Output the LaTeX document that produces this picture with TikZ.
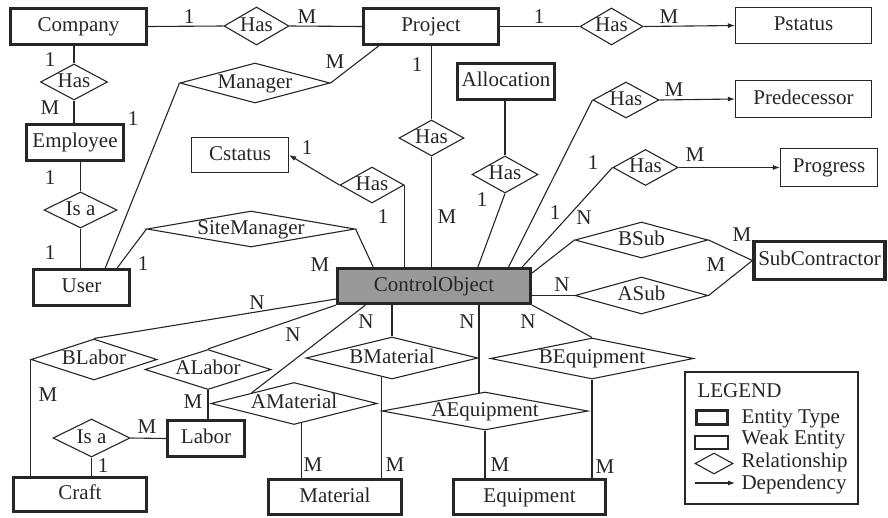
\documentclass[tikz,border=0pt]{standalone}
\usepackage{fontspec}
\newfontfamily\erfont{Liberation Serif}
\usetikzlibrary{calc, positioning}
\usetikzlibrary{arrows.meta}
\usetikzlibrary{shapes.geometric}

\tikzset{
  ent/.style={draw, line width=3.2pt, inner sep=0pt, text height=14pt, text depth=4pt},
  weak/.style={draw, line width=1.1pt, inner sep=0pt, text height=14pt, text depth=4pt},
  rel/.style n args={3}{diamond, draw, line width=1.1pt, inner sep=0pt,
    minimum width=#1, minimum height=#2,
    label={[inner sep=0pt, text height=14pt, text depth=4pt]center:#3}},
  card/.style={inner sep=0pt},
  lgtext/.style={anchor=west, inner sep=0pt, text height=14pt, text depth=4pt},
  dep/.style={-{Latex[length=7pt,width=5pt]}},
}

\begin{document}
\begin{tikzpicture}[x=1pt, y=-1pt, line width=1.1pt, color=black!85,
  font=\erfont\fontsize{21}{24}\selectfont]
\useasboundingbox (0,0) rectangle (888,517);

% entity types
\node[ent, minimum width=136pt, minimum height=36pt] (company) at (78.5,26.5) {Company};
\node[ent, minimum width=135pt, minimum height=36pt] (project) at (431,26.5) {Project};
\node[ent, minimum width=97pt, minimum height=36pt] (employee) at (75,142.5) {Employee};
\node[ent, minimum width=97pt, minimum height=36pt] (allocation) at (506,81.5) {Allocation};
\node[ent, minimum width=96pt, minimum height=36pt] (user) at (81.5,287.5) {User};
\node[ent, fill=black!40, minimum width=193pt, minimum height=35pt] (co) at (434,286) {ControlObject};
\node[ent, minimum width=131pt, minimum height=38pt] (sub) at (819.5,260.5) {SubContractor};
\node[ent, minimum width=77pt, minimum height=36pt] (labor) at (206,438.5) {Labor};
\node[ent, minimum width=133pt, minimum height=34pt] (craft) at (80,494.5) {Craft};
\node[ent, minimum width=133pt, minimum height=35pt] (material) at (335,497) {Material};
\node[ent, minimum width=152pt, minimum height=35pt] (equipment) at (529.5,497) {Equipment};

% weak entities
\node[weak, minimum width=136pt, minimum height=36pt] (pstatus) at (803.5,25.5) {Pstatus};
\node[weak, minimum width=136pt, minimum height=37pt] (predecessor) at (803.5,99) {Predecessor};
\node[weak, minimum width=97pt, minimum height=38pt] (progress) at (829,167.5) {Progress};
\node[weak, minimum width=97pt, minimum height=35pt] (cstatus) at (240,155) {Cstatus};

% relationships
\node[rel={65pt}{38pt}{Has}] (hasCP) at (256.5,26) {};
\node[rel={67pt}{36pt}{Has}] (hasCE) at (74,82) {};
\node[rel={150pt}{40pt}{Manager}] (manager) at (255,83) {};
\node[rel={63pt}{37pt}{Has}] (hasPS) at (611.5,26.5) {};
\node[rel={65pt}{36pt}{Has}] (hasPC) at (431.5,138) {};
\node[rel={66pt}{37pt}{Has}] (hasAl) at (505,174.5) {};
\node[rel={64pt}{36pt}{Has}] (hasCs) at (372,185) {};
\node[rel={66pt}{36pt}{Has}] (hasPred) at (626,100) {};
\node[rel={65pt}{36pt}{Has}] (hasProg) at (645.5,167.5) {};
\node[rel={73pt}{36pt}{Is a}] (isaEU) at (80.5,210) {};
\node[rel={208pt}{36pt}{SiteManager}] (siteMgr) at (251,229) {};
\node[rel={133pt}{36pt}{BSub}] (bSub) at (641.5,240) {};
\node[rel={133pt}{37pt}{ASub}] (aSub) at (641.5,295.5) {};
\node[rel={126pt}{41pt}{BLabor}] (bLabor) at (94,359.5) {};
\node[rel={126pt}{40pt}{ALabor}] (aLabor) at (208,369.5) {};
\node[rel={166pt}{42pt}{AMaterial}] (aMat) at (294,403.5) {};
\node[rel={172pt}{42pt}{BMaterial}] (bMat) at (392,358) {};
\node[rel={206pt}{38pt}{AEquipment}] (aEq) at (485,411) {};
\node[rel={203pt}{41pt}{BEquipment}] (bEq) at (592,358.5) {};
\node[rel={77pt}{38pt}{Is a}] (isaLC) at (91.5,438) {};

% connectors
\draw (company.east) -- (hasCP.west);
\draw (hasCP.east) -- (project.west);
\draw (hasCE.north) -- (hasCE.north |- company.south);
\draw (hasCE.south) -- (hasCE.south |- employee.north);
\draw (isaEU.north) -- (isaEU.north |- employee.south);
\draw (isaEU.south) -- (isaEU.south |- user.north);
\draw (manager.west) -- ($(user.north west)!0.74!(user.north east)$);
\draw (manager.east) -- ($(project.south west)!0.12!(project.south east)$);
\draw (project.east) -- (hasPS.west);
\draw[dep] (hasPS.east) -- (pstatus.west);
\draw (hasPC.north) -- (hasPC.north |- project.south);
\draw (hasPC.south) -- (hasPC.south |- co.north);
\draw (hasAl.north) -- (hasAl.north |- allocation.south);
\draw (hasAl.south) -- ($(co.north west)!0.724!(co.north east)$);
\draw[dep] (hasCs.west) -- (cstatus.east);
\draw (hasCs.east) -- (hasCs.east |- co.north);
\draw (siteMgr.west) -- ($(user.north west)!0.86!(user.north east)$);
\draw (siteMgr.east) -- ($(co.north west)!0.19!(co.north east)$);
\draw (hasPred.west) -- ($(co.north west)!0.88!(co.north east)$);
\draw[dep] (hasPred.east) -- (predecessor.west);
\draw (hasProg.west) -- ($(co.north west)!0.95!(co.north east)$);
\draw[dep] (hasProg.east) -- (progress.west);
\draw ($(co.north east)!0.16!(co.south east)$) -- (bSub.west);
\draw (bSub.east) -- (sub.west);
\draw (aSub.west) -- (aSub.west -| co.east);
\draw (aSub.east) -- (sub.west);
\draw (bLabor.north) -- ($(co.north west)!0.84!(co.south west)$);
\draw (aLabor.north) -- (co.south west);
\draw (aMat.166) -- ($(co.south west)!0.15!(co.south east)$);
\draw (bMat.north) -- (bMat.north |- co.south);
\draw (aEq.108) -- (aEq.108 |- co.south);
\draw (bEq.north) -- (co.south east);
\draw (bLabor.west) -- (bLabor.west |- craft.north);
\draw (aLabor.south) -- (aLabor.south |- labor.north);
\draw (aMat.-70) -- (aMat.-70 |- material.north);
\draw (bMat.-118) -- (bMat.-118 |- material.north);
\draw (aEq.south) -- (aEq.south |- equipment.north);
\draw (bEq.south) -- (bEq.south |- equipment.north);
\draw (isaLC.east) -- (labor.west);
\draw (isaLC.south) -- (isaLC.south |- craft.north);

% cardinalities
\node[card] (cCP1) at (189,17) {1};
\node[card] (cCPm) at (307,17) {M};
\node[card] (cPS1) at (539,17) {1};
\node[card] (cPSm) at (669,17) {M};
\node[card] (cCE1) at (50,60) {1};
\node[card] (cCEm) at (50,108) {M};
\node[card] (cMg1) at (133,119) {1};
\node[card] (cMgm) at (335,62) {M};
\node[card] (cPC1) at (417,65) {1};
\node[card] (cPCm) at (447,217) {M};
\node[card] (cCs1) at (307,148) {1};
\node[card] (cCs2) at (383,217) {1};
\node[card] (cAl1) at (482,200) {1};
\node[card] (cPrm) at (674,90) {M};
\node[card] (cPr1) at (593,163) {1};
\node[card] (cPgm) at (695,155) {M};
\node[card] (cPg1) at (555,213) {1};
\node[card] (cBSn) at (584,218) {N};
\node[card] (cEU1) at (50,178) {1};
\node[card] (cEU2) at (50,253) {1};
\node[card] (cSM1) at (143,264) {1};
\node[card] (cSMm) at (320,265) {M};
\node[card] (cBSm) at (742,235) {M};
\node[card] (cASm) at (716,265) {M};
\node[card] (cASn) at (562,285) {N};
\node[card] (cBLn) at (257,303) {N};
\node[card] (cALn) at (293,335) {N};
\node[card] (cMtn) at (366,322) {N};
\node[card] (cAEn) at (467,322) {N};
\node[card] (cBEn) at (528,322) {N};
\node[card] (cBLm) at (48,395) {M};
\node[card] (cALm) at (193,402) {M};
\node[card] (cLCm) at (147,427) {M};
\node[card] (cLC1) at (103,466) {1};
\node[card] (cAMm) at (313,465) {M};
\node[card] (cBMm) at (395,465) {M};
\node[card] (cAEm) at (500,465) {M};
\node[card] (cBEm) at (605,467) {M};

% legend
\node[draw, inner sep=0pt, minimum width=173pt, minimum height=132pt] (legend) at (771.5,438) {};
\node[lgtext] (lgTitle) at (697,392) {LEGEND};
\node[ent, line width=3pt, text height=0pt, text depth=0pt, minimum width=31pt, minimum height=14pt] (lgEnt) at (711.5,417) {};
\node[lgtext] (lgEntTxt) at (741,418) {Entity Type};
\node[weak, text height=0pt, text depth=0pt, minimum width=33pt, minimum height=13pt] (lgWeak) at (711.5,442.5) {};
\node[lgtext] (lgWeakTxt) at (741,439) {Weak Entity};
\node[rel={38pt}{21pt}{}] (lgRel) at (714,463.5) {};
\node[lgtext] (lgRelTxt) at (741,462) {Relationship};
\coordinate (lgDepA) at (695,483);
\coordinate (lgDepB) at (735,483);
\draw[dep] (lgDepA) -- (lgDepB);
\node[lgtext] (lgDepTxt) at (741,484) {Dependency};
\end{tikzpicture}
\end{document}
